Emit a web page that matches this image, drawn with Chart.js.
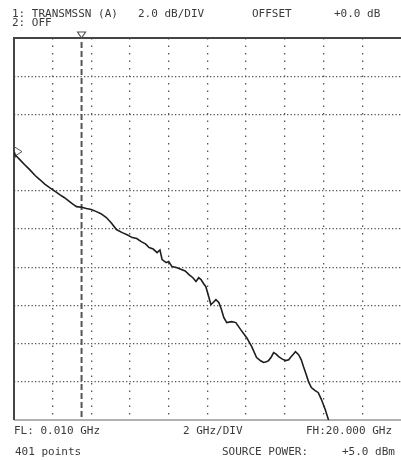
<!DOCTYPE html>
<html>
<head>
<meta charset="utf-8">
<script src="https://cdn.jsdelivr.net/npm/chart.js@4.4.1/dist/chart.umd.min.js"></script>
<style>
  html, body { margin: 0; padding: 0; background: #fff; }
  #wrap { width: 401px; height: 460px; }
</style>
</head>
<body>
<div id="wrap"><canvas id="trace" width="401" height="460"></canvas></div>
<script>
// transmission trace (GHz, dB)
const freqs = [0.01, 0.05, 0.31, 0.55, 0.82, 1.1, 1.34, 1.6, 1.85, 2.1, 2.37, 2.6, 2.88, 3.05, 3.24, 3.5,
  3.75, 4.0, 4.27, 4.5, 4.78, 5.05, 5.3, 5.6, 5.85, 6.12, 6.35, 6.58, 6.8, 6.99, 7.2, 7.4, 7.55, 7.66,
  7.87, 8.0, 8.17, 8.4, 8.69, 8.85, 9.05, 9.25, 9.41, 9.55, 9.67, 9.8, 9.92, 10.08, 10.18, 10.3, 10.44,
  10.59, 10.72, 10.85, 11.0, 11.25, 11.47, 11.72, 12.03, 12.29, 12.54, 12.75, 12.9, 13.05, 13.16,
  13.3, 13.42, 13.55, 13.68, 13.85, 14.04, 14.2, 14.29, 14.45, 14.55, 14.71, 14.85, 14.96, 15.1,
  15.22, 15.37, 15.55, 15.73, 15.89, 16.09, 16.25, 16.4];
const gains = [0.0, -0.1, -0.37, -0.62, -0.89, -1.2, -1.41, -1.65, -1.83, -2.0, -2.2, -2.35, -2.57, -2.7, -2.83, -2.86,
  -2.93, -2.98, -3.09, -3.2, -3.4, -3.7, -4.03, -4.19, -4.3, -4.45, -4.5, -4.66, -4.78, -4.97, -5.05, -5.24, -5.1, -5.6,
  -5.76, -5.7, -5.97, -6.02, -6.13, -6.2, -6.39, -6.55, -6.75, -6.55, -6.65, -6.85, -7.02, -7.59, -7.96, -7.85, -7.7,
  -7.85, -8.2, -8.64, -8.9, -8.85, -8.9, -9.27, -9.69, -10.16, -10.73, -10.9, -10.99, -10.95, -10.89,
  -10.7, -10.47, -10.55, -10.68, -10.8, -10.89, -10.85, -10.73, -10.55, -10.42, -10.58, -10.85, -11.2, -11.6,
  -11.99, -12.3, -12.45, -12.57, -12.93, -13.46, -13.98, -15.0];

const freqMin = 0.01, freqMax = 20;       // GHz, 2 GHz/DIV
const dbTop = 6, dbBottom = -14;          // 2.0 dB/DIV, reference 0 dB
const markerFreq = 3.5;
const freqGrid = [2, 4, 6, 8, 10, 12, 14, 16, 18];
const dbGrid = [4, 2, -2, -4, -6, -8, -10, -12];

// annotation text: text, x, baseline
const headerText = [
  ['1: TRANSMSSN (A)', 12, 17],
  ['2.0 dB/DIV', 138, 17],
  ['OFFSET', 252, 17],
  ['+0.0 dB', 334, 17],
  ['2: OFF', 12, 26]
];
const footerText = [
  ['FL: 0.010 GHz', 14, 434],
  ['2 GHz/DIV', 183, 434],
  ['FH:20.000 GHz', 306, 434],
  ['401 points', 15, 455],
  ['SOURCE POWER:', 222, 455],
  ['+5.0 dBm', 342, 455]
];

const points = freqs.map((f, i) => ({ x: f, y: gains[i] }));

const analyzerPlugin = {
  id: 'analyzer',
  beforeDatasetsDraw(chart) {
    const { ctx, chartArea: a, scales } = chart;
    ctx.save();
    // frame
    ctx.strokeStyle = '#444';
    ctx.lineWidth = 2;
    ctx.beginPath();
    ctx.moveTo(a.left, a.bottom);
    ctx.lineTo(a.left, a.top);
    ctx.lineTo(a.right, a.top);
    ctx.stroke();
    ctx.lineWidth = 1.2;
    ctx.strokeStyle = '#666';
    ctx.beginPath();
    ctx.moveTo(a.left, a.bottom);
    ctx.lineTo(a.right, a.bottom);
    ctx.stroke();
    // marker line
    const mx = scales.x.getPixelForValue(markerFreq);
    ctx.strokeStyle = '#555';
    ctx.lineWidth = 2;
    ctx.setLineDash([6, 3]);
    ctx.beginPath();
    ctx.moveTo(mx, a.top + 4);
    ctx.lineTo(mx, a.bottom);
    ctx.stroke();
    ctx.setLineDash([]);
    ctx.lineWidth = 1.2;
    ctx.beginPath();
    ctx.moveTo(mx - 4, a.top - 6);
    ctx.lineTo(mx + 4, a.top - 6);
    ctx.lineTo(mx, a.top);
    ctx.closePath();
    ctx.stroke();
    // reference position arrow
    const ry = scales.y.getPixelForValue(0);
    ctx.strokeStyle = '#555';
    ctx.lineWidth = 1;
    ctx.beginPath();
    ctx.moveTo(a.left, ry - 6);
    ctx.lineTo(a.left + 8, ry - 1);
    ctx.lineTo(a.left, ry + 4);
    ctx.stroke();
    ctx.restore();
  },
  afterDraw(chart) {
    const ctx = chart.ctx;
    ctx.save();
    ctx.fillStyle = '#3a3a3a';
    ctx.font = '11px "DejaVu Sans Mono", monospace';
    ctx.textBaseline = 'alphabetic';
    headerText.concat(footerText).forEach(([t, x, y]) => ctx.fillText(t, x, y));
    ctx.restore();
  }
};

new Chart(document.getElementById('trace'), {
  type: 'line',
  data: {
    datasets: [{
      data: points,
      borderColor: '#1e1e1e',
      borderWidth: 1.6,
      pointRadius: 0,
      tension: 0,
      fill: false
    }]
  },
  options: {
    responsive: false,
    animation: false,
    layout: { padding: { left: 14, top: 38, right: 0, bottom: 40 } },
    plugins: { legend: { display: false }, tooltip: { enabled: false } },
    scales: {
      x: {
        type: 'linear',
        min: freqMin,
        max: freqMax,
        afterBuildTicks: s => { s.ticks = freqGrid.map(v => ({ value: v })); },
        ticks: { display: false },
        grid: { color: '#555', lineWidth: 1.3, drawTicks: false },
        border: { display: false, dash: [1.5, 6] }
      },
      y: {
        type: 'linear',
        min: dbBottom,
        max: dbTop,
        afterBuildTicks: s => { s.ticks = dbGrid.map(v => ({ value: v })); },
        ticks: { display: false },
        grid: { color: '#555', lineWidth: 1.2, drawTicks: false },
        border: { display: false, dash: [1.3, 2.2] }
      }
    }
  },
  plugins: [analyzerPlugin]
});
</script>
</body>
</html>
